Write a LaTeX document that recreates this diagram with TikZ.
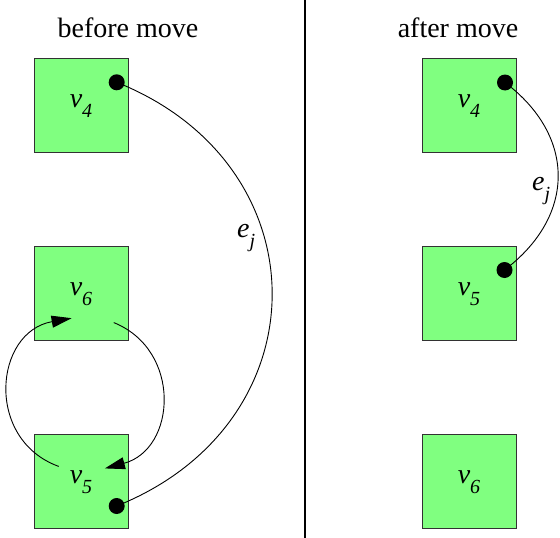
\documentclass[tikz,border=0pt]{standalone}
\usepackage{fontspec}
\setmainfont{Liberation Serif}
\usetikzlibrary{arrows.meta}
\definecolor{vgreen}{RGB}{128,255,128}
\definecolor{vedge}{RGB}{50,50,50}
% italic letter with a lowered italic subscript
\newcommand{\sublab}[2]{\textit{#1}\raisebox{-10pt}{\fontsize{20}{20}\selectfont\textit{#2}}}
\begin{document}
\begin{tikzpicture}[x=1pt,y=-1pt,
  vbox/.style={draw=vedge, line width=1.2pt, fill=vgreen, minimum size=94pt,
    inner sep=0pt, anchor=north west},
  vdot/.style={circle, fill=black, minimum size=16pt, inner sep=0pt},
  lbl/.style={font=\fontsize{28}{32}\selectfont, inner sep=0pt, anchor=base west},
  ttl/.style={font=\fontsize{28}{32}\selectfont, inner sep=0pt, anchor=base},
  edge/.style={line width=0.9pt},
  loop/.style={line width=0.9pt, -{Triangle[length=20pt,width=12pt]}},
  divider/.style={line width=1.3pt}]
\useasboundingbox (0,0) rectangle (560,538);

% titles and divider
\node[ttl] (tL) at (128,37) {before move};
\node[ttl] (tR) at (458,37) {after move};
\coordinate (dtop) at (305,0);
\coordinate (dbot) at (305,538);
\draw[divider] (dtop) -- (dbot);

% left side: before the move
\node[vbox] (b4L) at (34,58) {};
\node[vbox] (b6L) at (34,246) {};
\node[vbox] (b5L) at (34,434) {};
\node[lbl] (l4L) at ([shift={(-12,2)}]b4L.center) {\sublab{v}{4}};
\node[lbl] (l6L) at ([shift={(-12,2)}]b6L.center) {\sublab{v}{6}};
\node[lbl] (l5L) at ([shift={(-12,2)}]b5L.center) {\sublab{v}{5}};

% right side: after the move
\node[vbox] (b4R) at (422,58) {};
\node[vbox] (b5R) at (422,246) {};
\node[vbox] (b6R) at (422,434) {};
\node[lbl] (l4R) at ([shift={(-12,2)}]b4R.center) {\sublab{v}{4}};
\node[lbl] (l5R) at ([shift={(-12,2)}]b5R.center) {\sublab{v}{5}};
\node[lbl] (l6R) at ([shift={(-12,2)}]b6R.center) {\sublab{v}{6}};

% edge end points
\node[vdot] (p4L) at (116.7,82.3) {};
\node[vdot] (p5L) at (116.7,506) {};
\node[vdot] (p4R) at (505,82.5) {};
\node[vdot] (p5R) at (504.5,270) {};

% edge e_j before and after
\draw[edge] (p4L.center) .. controls (324,165) and (324,423) .. (p5L.center);
\draw[edge] (p4R.center) .. controls (576,136) and (576,216) .. (p5R.center);
\node[lbl] (ejL) at (237,237) {\sublab{e}{j}};
\node[lbl] (ejR) at (532,190) {\sublab{e}{j}};

% swap arrows between v5 and v6
\coordinate (s5out) at (58.7,466.4);
\coordinate (s6in) at (71.6,318.2);
\coordinate (s6out) at (113.8,322.6);
\coordinate (s5in) at (104.9,468.4);
\draw[loop] (s5out) .. controls (-15.4,439.5) and (-6.0,331.9) .. (s6in);
\draw[loop] (s6out) .. controls (182.3,350.3) and (176.3,449.3) .. (s5in);
\end{tikzpicture}
\end{document}
